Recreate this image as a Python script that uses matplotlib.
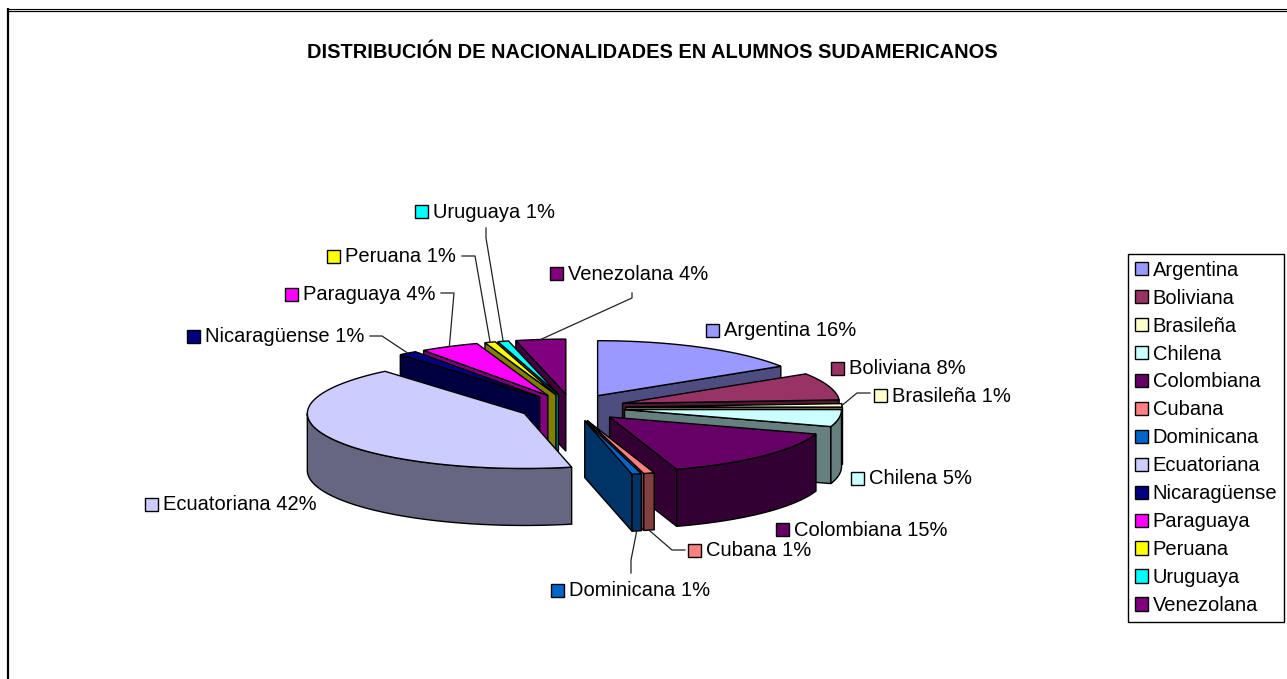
"""Exploded 3D-style pie of nationalities among South American students."""

import matplotlib

matplotlib.use("Agg")
import matplotlib.pyplot as plt
import numpy as np
from matplotlib.patches import Patch, Rectangle

plt.rcParams["font.family"] = ["Liberation Sans", "DejaVu Sans"]

TITLE = "DISTRIBUCIÓN DE NACIONALIDADES EN ALUMNOS SUDAMERICANOS"
NATIONALITIES = [
    "Argentina", "Boliviana", "Brasileña", "Chilena", "Colombiana", "Cubana",
    "Dominicana", "Ecuatoriana", "Nicaragüense", "Paraguaya", "Peruana",
    "Uruguaya", "Venezolana",
]
# Shares; the labels show them rounded
SHARES = [16, 8, 1, 5, 15, 0.8, 0.7, 42.4, 1.4, 4.4, 0.8, 0.8, 3.7]
TOP_COLORS = [
    "#9999FF", "#993366", "#FFFFCC", "#CCFFFF", "#660066", "#FF8080",
    "#0066CC", "#CCCCFF", "#000080", "#FF00FF", "#FFFF00", "#00FFFF",
    "#800080",
]

# Pie projection, in pixels of the figure
CENTER = (572.0, 407.5)
RX, RY = 217.0, 55.0
DEPTH = 57.0
EXPLODE = 0.245

# Swatch left edge and vertical centre of each data label
LABEL_XY = [
    (706, 330), (831, 368), (874, 395), (851, 478), (776, 529), (688, 550),
    (551, 590), (145, 504), (187, 336), (285, 294), (327, 256), (415, 211),
    (550, 273),
]
# Leader lines: bend points from the label to the slice (None = no leader)
LEADERS = [
    None, None, [(870, 393), (857, 393)], None, None,
    [(685, 550), (672, 550)], [(631, 573), (631, 560)], None,
    [(370, 336), (382, 336)], [(441, 293), (454, 293)],
    [(462, 256), (475, 256)], [(486, 228), (486, 238)],
    [(632, 293), (632, 298)],
]


def shade(color):
    """Side walls are the top colour at half brightness."""
    return tuple(c * 0.5 for c in matplotlib.colors.to_rgb(color))


def rim(apex, theta):
    """Point on the rim for an angle clockwise from 12 o'clock, in degrees."""
    t = np.radians(theta)
    return apex[0] + RX * np.sin(t), apex[1] - RY * np.cos(t)


def wall(ax, xs, ys, color):
    ax.fill(xs, ys, facecolor=color, edgecolor="black", linewidth=1.0, joinstyle="miter")


def draw_slice(ax, start, end, color):
    mid = np.radians((start + end) / 2)
    apex = (
        CENTER[0] + EXPLODE * RX * np.sin(mid),
        CENTER[1] - EXPLODE * RY * np.cos(mid),
    )
    side = shade(color)

    # Radial walls that face the viewer
    for theta, visible in ((end, end < 180), (start, start >= 180)):
        if visible:
            x, y = rim(apex, theta)
            wall(
                ax,
                [apex[0], x, x, apex[0]],
                [apex[1], y, y + DEPTH, apex[1] + DEPTH],
                side,
            )

    # Curved wall, only on the front half of the ellipse
    lo, hi = max(start, 90), min(end, 270)
    if hi > lo:
        x, y = rim(apex, np.linspace(lo, hi, 80))
        wall(ax, np.r_[x, x[::-1]], np.r_[y, y[::-1] + DEPTH], side)

    # Top face
    x, y = rim(apex, np.linspace(start, end, 80))
    wall(ax, np.r_[apex[0], x], np.r_[apex[1], y], color)
    return apex


fig = plt.figure(figsize=(12.87, 6.79), dpi=100)
ax = fig.add_axes([0, 0, 1, 1])
ax.set_xlim(0, 1287)
ax.set_ylim(679, 0)
ax.axis("off")

# Chart frame: the double line runs past the right and bottom of the picture
ax.plot([8, 8], [679, 8], color="black", lw=1.6, solid_capstyle="butt")
ax.plot([7, 1287], [8.5, 8.5], color="black", lw=0.8)
ax.plot([8, 1287], [10.5, 10.5], color="black", lw=0.9)

ax.text(652, 52.5, TITLE, ha="center", va="center", fontsize=14.4, fontweight="bold")

edges = np.r_[0, np.cumsum(SHARES)] / sum(SHARES) * 360
mids = (edges[:-1] + edges[1:]) / 2

# Painter's order: back of the pie first
apexes = {}
for i in np.argsort(-np.cos(np.radians(mids))):
    apexes[i] = draw_slice(ax, edges[i], edges[i + 1], TOP_COLORS[i])

# Data labels with their colour swatch and leader line
for i, name in enumerate(NATIONALITIES):
    x, y = LABEL_XY[i]
    ax.add_patch(
        Rectangle((x, y - 6.5), 13, 13, facecolor=TOP_COLORS[i], edgecolor="black", lw=1.0)
    )
    ax.text(x + 18, y + 1, f"{name} {SHARES[i]:.0f}%", ha="left", va="center", fontsize=14.5)

    if LEADERS[i] is not None:
        end_x, end_y = rim(apexes[i], mids[i])
        if 90 < mids[i] < 270:
            end_y += DEPTH
        xs = [p[0] for p in LEADERS[i]] + [end_x]
        ys = [p[1] for p in LEADERS[i]] + [end_y]
        ax.plot(xs, ys, color="#222222", lw=0.9, zorder=1)

# Legend
handles = [
    Patch(facecolor=c, edgecolor="black", linewidth=1.0, label=n)
    for c, n in zip(TOP_COLORS, NATIONALITIES)
]
legend = ax.legend(
    handles=handles,
    loc="upper left",
    bbox_to_anchor=(1128 / 1287, 1 - 254 / 679),
    fontsize=14.5,
    frameon=True,
    fancybox=False,
    framealpha=1,
    edgecolor="black",
    borderpad=0.33,
    labelspacing=0.445,
    handlelength=0.65,
    handleheight=0.65,
    handletextpad=0.25,
    borderaxespad=0,
)
legend.get_frame().set_linewidth(1.0)

fig.savefig("out.png", dpi=100)
